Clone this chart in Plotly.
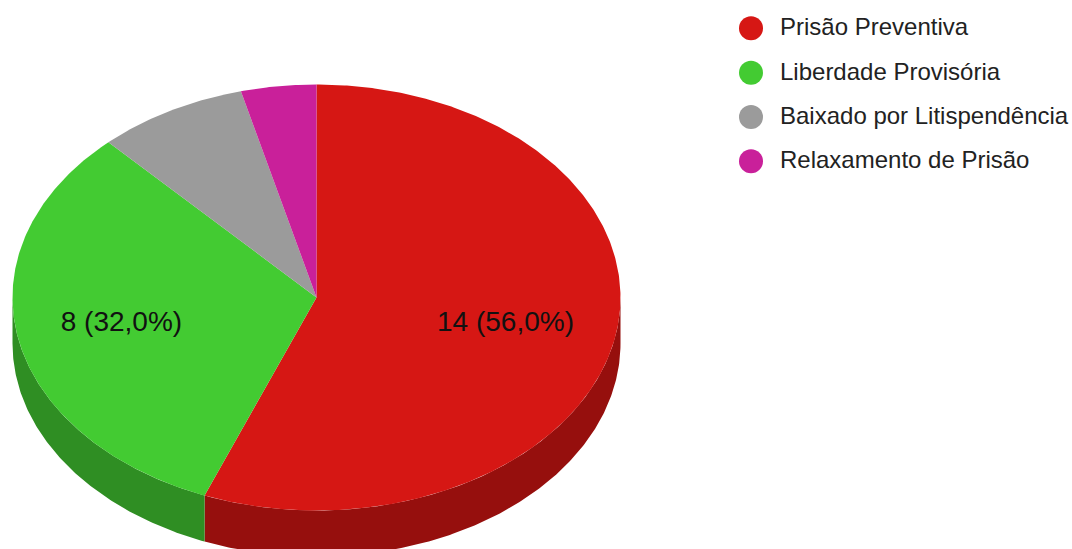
import numpy as np
import plotly.graph_objects as go

# Decisões judiciais por categoria
categories = ["Prisão Preventiva", "Liberdade Provisória", "Baixado por Litispendência", "Relaxamento de Prisão"]
counts = [14, 8, 2, 1]
colors = ["#D61714", "#43CB32", "#9B9B9B", "#C9209A"]
side_colors = ["#960F0D", "#2F8E23", "#6C6C6C", "#8C166C"]
labelled = [True, True, False, False]
label_shift_x = [0, -6, 0, 0]

# Geometria da pizza inclinada, em unidades da área de desenho
CX, CY, RX, RY, DEPTH = 316.5, 297.5, 304.0, 213.0, 46.0
LABEL_RADIUS = 0.633
LABEL_SHIFT_Y = 1.5
LEGEND_MARKER_X, LEGEND_TEXT_X = 751.0, 780.0
LEGEND_TOP, LEGEND_STEP = 28.3, 44.35
LEGEND_TEXT_SHIFT_Y = 1.0


def rim(a0, a1, offset=0.0):
    """Pontos da borda da elipse entre dois ângulos, medidos a partir do topo em sentido horário."""
    t = np.linspace(a0, a1, max(int(abs(a1 - a0) * 120), 2))
    return CX + RX * np.sin(t), CY - RY * np.cos(t) + offset


total = sum(counts)
edges = np.concatenate([[0.0], np.cumsum(counts)]) / total * 2 * np.pi

fig = go.Figure()

# Parede lateral: só a parte frontal da borda fica visível
for i, name in enumerate(categories):
    a0, a1 = max(edges[i], np.pi / 2), min(edges[i + 1], 3 * np.pi / 2)
    if a1 <= a0:
        continue
    x_top, y_top = rim(a0, a1)
    x_bot, y_bot = rim(a0, a1, DEPTH)
    fig.add_trace(go.Scatter(
        x=np.concatenate([x_top, x_bot[::-1]]),
        y=np.concatenate([y_top, y_bot[::-1]]),
        mode="lines", fill="toself", fillcolor=side_colors[i],
        line=dict(width=0, color=side_colors[i]), hoverinfo="skip", showlegend=False,
    ))

# Face superior
for i, name in enumerate(categories):
    x_arc, y_arc = rim(edges[i], edges[i + 1])
    fig.add_trace(go.Scatter(
        x=np.concatenate([[CX], x_arc, [CX]]),
        y=np.concatenate([[CY], y_arc, [CY]]),
        mode="lines", fill="toself", fillcolor=colors[i],
        line=dict(width=0, color=colors[i]), name=name,
        text=f"{name}: {counts[i]}", hoverinfo="text", showlegend=False,
    ))

# Rótulos de valor nas fatias maiores
for i, show in enumerate(labelled):
    if not show:
        continue
    mid = (edges[i] + edges[i + 1]) / 2
    text = f"{counts[i]} ({counts[i] / total * 100:.1f}%)".replace(".", ",")
    fig.add_trace(go.Scatter(
        x=[CX + LABEL_RADIUS * RX * np.sin(mid) + label_shift_x[i]],
        y=[CY - LABEL_RADIUS * RY * np.cos(mid) + LABEL_SHIFT_Y],
        mode="text", text=[text], textposition="middle center",
        textfont=dict(family="Liberation Sans, Arial, sans-serif", size=28, color="#111111"),
        hoverinfo="skip", showlegend=False,
    ))

# Legenda à direita
rows = [LEGEND_TOP + LEGEND_STEP * i for i in range(len(categories))]
fig.add_trace(go.Scatter(
    x=[LEGEND_MARKER_X] * len(rows), y=rows, mode="markers",
    marker=dict(size=24, color=colors, line=dict(width=0)),
    hoverinfo="skip", showlegend=False,
))
fig.add_trace(go.Scatter(
    x=[LEGEND_TEXT_X] * len(rows), y=[r + LEGEND_TEXT_SHIFT_Y for r in rows],
    mode="text", text=categories, textposition="middle right",
    textfont=dict(family="Liberation Sans, Arial, sans-serif", size=24, color="#222222"),
    hoverinfo="skip", showlegend=False,
))

fig.update_layout(
    width=1072, height=549, autosize=False,
    margin=dict(l=0, r=0, t=0, b=0),
    paper_bgcolor="white", plot_bgcolor="white", showlegend=False,
    xaxis=dict(range=[0, 1072], visible=False, fixedrange=True),
    yaxis=dict(range=[549, 0], visible=False, fixedrange=True),
)
fig.write_html("out.html", config=dict(displayModeBar=False))
